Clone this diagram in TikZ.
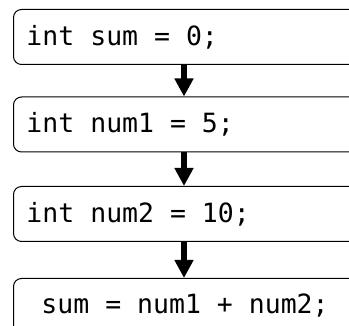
\documentclass[tikz,border=0pt]{standalone}
\usepackage{fontspec}
\setmonofont{DejaVu Sans Mono}
\usetikzlibrary{arrows.meta}
\tikzset{
  codebox/.style={draw=black, line width=1pt, rounded corners=8pt, anchor=north west,
    minimum height=55pt, inner ysep=0pt, inner xsep=13pt,
    font=\ttfamily\fontsize{26.5pt}{30pt}\selectfont},
  flowarrow/.style={line width=6pt, -{Triangle[width=18pt,length=18pt]}}
}
\newcommand\codeline[2][318pt]{\makebox[#1][l]{#2}}
\begin{document}
\begin{tikzpicture}[x=1pt,y=1pt]
\useasboundingbox (0,0) rectangle (349,326);
\clip (0,0) rectangle (349,326);
\node[codebox] (b1) at (13,317) {\codeline{int sum = 0;}};
\node[codebox] (b2) at (13,229.5) {\codeline{int num1 = 5;}};
\node[codebox] (b3) at (13,140) {\codeline{int num2 = 10;}};
\node[codebox, inner xsep=28pt] (b4) at (13,48) {\codeline[288pt]{sum = num1 + num2;}};
\draw[flowarrow] ([xshift=-1.5pt]b1.south) -- ([xshift=-1.5pt]b2.north);
\draw[flowarrow] ([xshift=-1.5pt]b2.south) -- ([xshift=-1.5pt]b3.north);
\draw[flowarrow] ([xshift=-1.5pt]b3.south) -- ([xshift=-1.5pt]b4.north);
\end{tikzpicture}
\end{document}
